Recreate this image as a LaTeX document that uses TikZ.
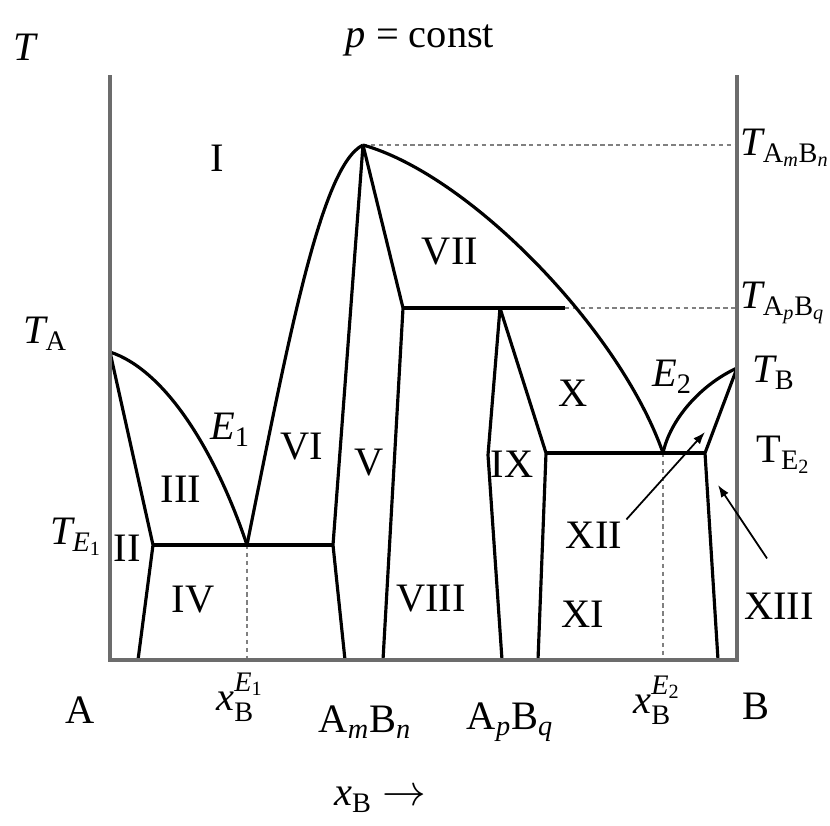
\documentclass[tikz,border=0pt]{standalone}
\usepackage{amsmath}
\usepackage{fontspec}
\setmainfont{Liberation Serif}
\usetikzlibrary{arrows.meta}

\begin{document}
\begin{tikzpicture}[x=0.02cm, y=-0.02cm,
    lbl/.style = {font=\fontsize{23}{27}\selectfont, inner sep=0pt},
    curve/.style = {draw, line width=1.8pt, line join=round},
    axis/.style = {draw, gray!85!black, line width=2.6pt},
    guide/.style = {draw, gray, line width=0.9pt, dash pattern=on 2.5pt off 2pt},
    arrow/.style = {draw, -{Latex[length=7pt,width=5pt]}, line width=1pt}
]
    \useasboundingbox (0,0) rectangle (830,825);

    % frame corners
    \coordinate (A0) at (110,660);
    \coordinate (A1) at (110,75);
    \coordinate (B0) at (737,660);
    \coordinate (B1) at (737,75);

    % special points
    \coordinate (TA) at (110,352);
    \coordinate (TB) at (737,368);
    \coordinate (E1) at (247,545);
    \coordinate (E2) at (663,453);
    \coordinate (M) at (363,145);
    \coordinate (P) at (500,308);
    \coordinate (Pl) at (565,308);
    \coordinate (s1) at (153,545);
    \coordinate (s2) at (333,545);
    \coordinate (s3) at (403,308);
    \coordinate (s4) at (546,453);
    \coordinate (s5) at (705,453);
    \coordinate (s6) at (488,455);
    \coordinate (b1) at (138,660);
    \coordinate (b2) at (345,660);
    \coordinate (b3) at (383,660);
    \coordinate (b4) at (502,660);
    \coordinate (b5) at (538,660);
    \coordinate (b6) at (718,660);
    \coordinate (e1b) at (247,660);
    \coordinate (e2b) at (663,660);
    \coordinate (rM) at (737,145);
    \coordinate (rP) at (737,308);

    % guides
    \path[guide] (M) -- (rM);
    \path[guide] (Pl) -- (rP);
    \path[guide] (E1) -- (e1b);
    \path[guide] (E2) -- (e2b);

    % liquidus
    \path[curve] (TA) .. controls (165,370) and (215,450) .. (E1);
    \path[curve] (E1) .. controls (290,330) and (322,165) .. (M);
    \path[curve] (M) .. controls (470,175) and (620,330) .. (E2);
    \path[curve] (E2) .. controls (670,420) and (700,385) .. (TB);

    % solidus and eutectic lines
    \path[curve] (TA) -- (s1) -- (b1);
    \path[curve] (s1) -- (s2);
    \path[curve] (M) -- (s2) -- (b2);
    \path[curve] (M) -- (s3) -- (b3);
    \path[curve] (s3) -- (Pl);
    \path[curve] (P) -- (s6) -- (b4);
    \path[curve] (P) -- (s4) -- (b5);
    \path[curve] (s4) -- (s5);
    \path[curve] (TB) -- (s5) -- (b6);

    % axes
    \path[axis] (A1) -- (A0) -- (B0) -- (B1);

    % labels
    \node[lbl] (lT) at (26,47) {\textit{T}};
    \node[lbl] (lp) at (420,40) {\textit{p} = const};
    \node[lbl] (lI) at (217,158) {I};
    \node[lbl] (lVII) at (450,252) {VII};
    \node[lbl] (lTA) at (45,334) {$\textit{T}_{\text{A}}$};
    \node[lbl] (lE1) at (230,430) {$\textit{E}_{\text{1}}$};
    \node[lbl] (lVI) at (302,447) {VI};
    \node[lbl] (lV) at (369,463) {V};
    \node[lbl] (lIII) at (181,489) {III};
    \node[lbl] (lTE1) at (76,537) {$\textit{T}_{\textit{E}_{\text{1}}}$};
    \node[lbl] (lII) at (127,548) {II};
    \node[lbl] (lIV) at (193,600) {IV};
    \node[lbl] (lVIII) at (431,599) {VIII};
    \node[lbl] (lIX) at (512,464) {IX};
    \node[lbl] (lX) at (573,393) {X};
    \node[lbl] (lE2) at (672,377) {$\textit{E}_{\text{2}}$};
    \node[lbl] (lXII) at (594,535) {XII};
    \node[lbl] (lXI) at (583,614) {XI};
    \node[lbl] (lXIII) at (779,606) {XIII};
    \node[lbl, anchor=west] (lTM) at (740,148) {$\textit{T}_{\text{A}_{\textit{m}}\text{B}_{\textit{n}}}$};
    \node[lbl, anchor=west] (lTP) at (740,303) {$\textit{T}_{\text{A}_{\textit{p}}\text{B}_{\textit{q}}}$};
    \node[lbl, anchor=west] (lTB) at (752,373) {$\textit{T}_{\text{B}}$};
    \node[lbl, anchor=west] (lTE2) at (756,455) {$\text{T}_{\text{E}_{\text{2}}}$};

    \node[lbl] (lA) at (80,710) {A};
    \node[lbl] (lx1) at (240,697) {$\textit{x}^{\textit{E}_{\text{1}}}_{\text{B}}$};
    \node[lbl] (lAmBn) at (365,722) {A$_{\textit{m}}$B$_{\textit{n}}$};
    \node[lbl] (lApBq) at (510,722) {A$_{\textit{p}}$B$_{\textit{q}}$};
    \node[lbl] (lx2) at (657,700) {$\textit{x}^{\textit{E}_{\text{2}}}_{\text{B}}$};
    \node[lbl] (lB) at (756,706) {B};
    \node[lbl] (lxB) at (380,800) {$\textit{x}_{\text{B}}$ $\rightarrow$};

    % pointers
    \coordinate (tXII) at (705,432);
    \coordinate (tXIII) at (718,485);
    \path[arrow] (lXII.north east) ++(4,-2) -- (tXII);
    \path[arrow] (lXIII.north) ++(-12,-34) -- (tXIII);
\end{tikzpicture}
\end{document}
